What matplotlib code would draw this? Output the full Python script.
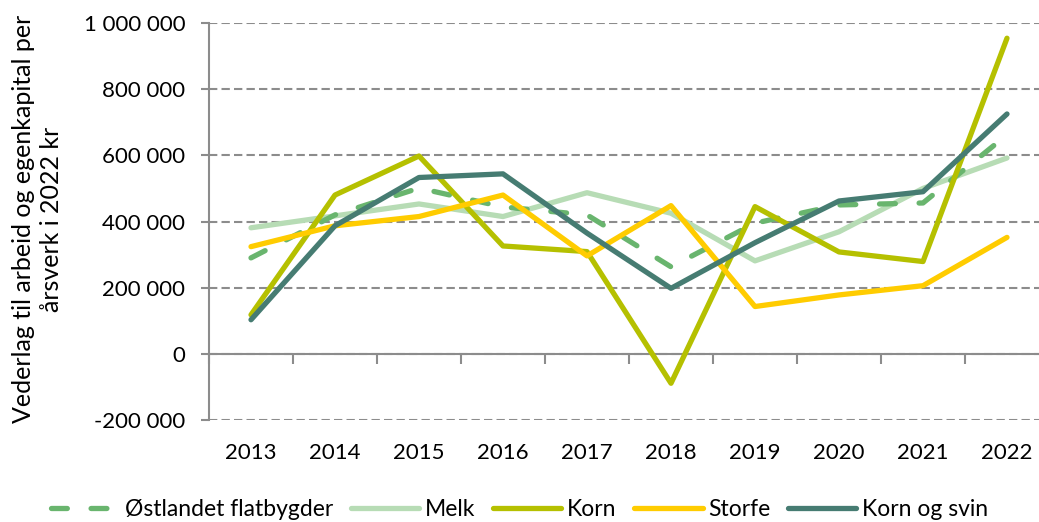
import numpy as np
import matplotlib
matplotlib.use('Agg')
import matplotlib.pyplot as plt
from matplotlib.ticker import FuncFormatter, MultipleLocator

### Data ###
#
years = ['2013', '2014', '2015', '2016', '2017', '2018', '2019', '2020', '2021', '2022']
ostlandet = [290000, 420000, 501000, 444000, 420000, 263000, 395000, 450000, 456000, 662000]
melk = [381000, 417000, 453000, 415000, 487000, 425000, 281000, 369000, 500000, 592000]
korn = [118000, 480000, 598000, 326000, 309000, -89000, 445000, 308000, 279000, 954000]
storfe = [324000, 387000, 415000, 480000, 296000, 448000, 143000, 178000, 206000, 352000]
korn_svin = [103000, 387000, 533000, 544000, 365000, 198000, 336000, 462000, 490000, 725000]

plt.rcParams['font.family'] = ['Lato', 'DejaVu Sans']

fig = plt.figure(figsize=(10.39, 5.22), dpi=100)
# plot area runs past the right edge, as in the reference crop
ax = fig.add_axes([209/1039, 102/522, 840/1039, 397/522])

x = np.arange(len(years))
lw = 3.8
kw = dict(lw=lw, solid_capstyle='round', dash_capstyle='round')
ax.plot(x, ostlandet, color='#69b56e', dashes=(3, 4.5), label='Østlandet flatbygder', zorder=3, **kw)
ax.plot(x, melk, color='#b7dcb5', label='Melk', zorder=2, **kw)
ax.plot(x, korn, color='#b5c000', label='Korn', zorder=4, **kw)
ax.plot(x, storfe, color='#ffcc00', label='Storfe', zorder=4, **kw)
ax.plot(x, korn_svin, color='#467c72', label='Korn og svin', zorder=5, **kw)

ax.set_xlim(-0.5, 9.5)
ax.set_ylim(-200000, 1000000)
ax.yaxis.set_major_locator(MultipleLocator(200000))
ax.yaxis.set_major_formatter(FuncFormatter(lambda v, p: '{:,.0f}'.format(v).replace(',', ' ')))
ax.grid(axis='y', color='#8c8c8c', lw=1.5, ls=(0, (4, 2)))
ax.set_axisbelow(True)

for s in ['top', 'right']:
    ax.spines[s].set_visible(False)
ax.spines['left'].set_color('#8c8c8c')
ax.spines['left'].set_linewidth(1.5)
ax.spines['bottom'].set_position(('data', 0))
ax.spines['bottom'].set_color('#8c8c8c')
ax.spines['bottom'].set_linewidth(1.5)

ax.set_xticks(x)
ax.set_xticklabels(years)
ax.set_xticks(np.arange(-0.5, 10, 1), minor=True)
ax.tick_params(axis='x', which='major', length=0, pad=64, labelsize=16)
ax.tick_params(axis='x', which='minor', length=7, width=1.5, color='#8c8c8c')
ax.tick_params(axis='y', length=6, width=1.5, color='#8c8c8c', labelsize=16, pad=11)

fig.text(0.036, 0.58, 'Vederlag til arbeid og egenkapital per\nårsverk i 2022 kr',
         rotation=90, ha='center', va='center', fontsize=18, linespacing=1.25)

fig.legend(loc='center', bbox_to_anchor=(0.5, 0.024), ncol=5, frameon=False,
           fontsize=16.5, handlelength=3.0, columnspacing=0.75, handletextpad=0.25,
           borderpad=0.1)

fig.savefig('out.png', dpi=100)
